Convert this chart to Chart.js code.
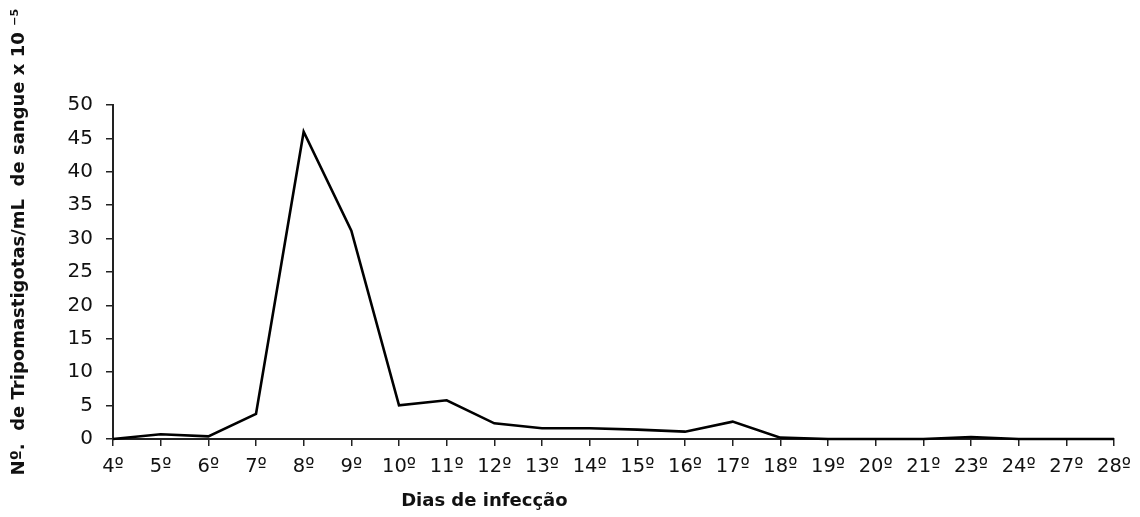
<!DOCTYPE html>
<html>
<head>
<meta charset="utf-8">
<script src="https://cdn.jsdelivr.net/npm/chart.js@4"></script>
<style>
    html, body { margin: 0; padding: 0; background: #fff; }
    #wrap { width: 1140px; height: 517px; }
</style>
</head>
<body>
<div id="wrap"><canvas id="chart1" width="1140" height="517"></canvas></div>
<script>
// dados
const dias = ['4º', '5º', '6º', '7º', '8º', '9º', '10º', '11º', '12º', '13º', '14º',
    '15º', '16º', '17º', '18º', '19º', '20º', '21º', '23º', '24º', '27º', '28º'];
const tripomastigotas = [0, 0.7, 0.4, 3.75, 46, 31.2, 5.05, 5.8, 2.35, 1.6, 1.6,
    1.4, 1.1, 2.6, 0.2, 0, 0, 0, 0.3, 0, 0, 0];
const yTicks = [0, 5, 10, 15, 20, 25, 30, 35, 40, 45, 50];

const titulo_x = 'Dias de infecção';
const titulo_y = 'Nº.  de Tripomastigotas/mL  de sangue x 10 ⁻⁵';

const fonte = '"DejaVu Sans", Arial, sans-serif';

// titles drawn by hand, they are not centered on the plot in the original
const axisTitles = {
    id: 'axisTitles',
    afterDraw(chart) {
        const ctx = chart.ctx;
        const area = chart.chartArea;
        ctx.save();
        ctx.fillStyle = '#111';
        ctx.font = 'bold 18px ' + fonte;
        ctx.textAlign = 'center';
        ctx.textBaseline = 'middle';
        ctx.fillText(titulo_x, area.left + (area.right - area.left) * 0.371, 501);

        ctx.translate(19, 242);
        ctx.rotate(-Math.PI / 2);
        ctx.fillText(titulo_y, 0, 0);
        ctx.restore();
    }
};

const data_infeccao = {
    labels: dias,
    datasets: [{
        label: 'Tripomastigotas',
        data: tripomastigotas,
        borderColor: '#000',
        borderWidth: 2.6,
        pointRadius: 0,
        tension: 0,
        fill: false,
        clip: 6,
    }],
};

const config_infeccao = {
    type: 'line',
    data: data_infeccao,
    options: {
        responsive: false,
        animation: false,
        layout: {
            padding: { top: 105, right: 26, left: 0, bottom: 0 },
        },
        plugins: {
            legend: { display: false },
            tooltip: { enabled: false },
        },
        scales: {
            x: {
                offset: false,
                grid: {
                    drawOnChartArea: false,
                    drawTicks: true,
                    tickLength: 7,
                    color: '#222',
                    lineWidth: 1.5,
                },
                border: { color: '#222', width: 2 },
                ticks: {
                    color: '#111',
                    font: { family: fonte, size: 19.5 },
                    maxRotation: 0,
                    autoSkip: false,
                    padding: 9,
                },
                afterFit(scale) {
                    scale.height = 78;
                },
            },
            y: {
                min: 0,
                max: 50,
                afterBuildTicks(scale) {
                    scale.ticks = yTicks.map(v => ({ value: v }));
                },
                grid: {
                    drawOnChartArea: false,
                    drawTicks: true,
                    tickLength: 7,
                    color: '#222',
                    lineWidth: 1.5,
                },
                border: { color: '#222', width: 2 },
                ticks: {
                    color: '#111',
                    font: { family: fonte, size: 20 },
                    padding: 13,
                },
                afterFit(scale) {
                    scale.width = 113;
                },
            },
        },
    },
    plugins: [axisTitles],
};

const ctx_infeccao = document.getElementById('chart1').getContext('2d');
const infeccao = new Chart(ctx_infeccao, config_infeccao);
</script>
</body>
</html>
